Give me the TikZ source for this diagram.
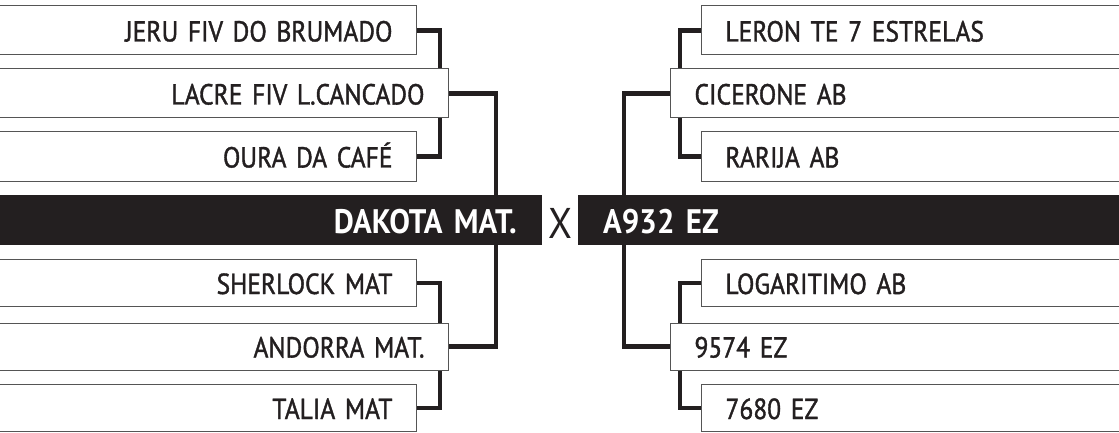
\documentclass[tikz,border=0pt]{standalone}
\usepackage{fontspec}
\newfontfamily\namefont[FakeBold=1.3,FakeStretch=0.88,WordSpace=0.6]{PT Sans}
\newfontfamily\barfont[FakeStretch=0.91,WordSpace=0.6]{PT Sans}
\newfontfamily\vsfont[FakeStretch=0.9]{PT Sans}
\definecolor{ink}{HTML}{231F20}
\definecolor{boxgray}{HTML}{555555}
\tikzset{
  namebox/.style={draw=boxgray, line width=1pt, fill=white, inner xsep=24pt, inner ysep=0pt,
    text height=22pt, text depth=0pt, text=ink,
    font=\namefont\fontsize{29}{32}\selectfont},
  lbox/.style={namebox, anchor=east, align=right, text width=#1},
  rbox/.style={namebox, anchor=west, align=left, text width=#1},
  barbox/.style={fill=ink, inner xsep=25pt, inner ysep=0pt, minimum height=50pt,
    text height=26pt, text depth=0pt, text=white,
    font=\barfont\bfseries\fontsize{34}{37}\selectfont},
  conn/.style={draw=ink, line width=4.3pt}
}
\begin{document}
\begin{tikzpicture}[x=1pt,y=-1pt]
\useasboundingbox (0,0) rectangle (1119,433);
\clip (0,0) rectangle (1119,433);
% left side
\node[lbox=379pt, minimum height=49pt] (jeru) at (417,30.5) {JERU FIV DO BRUMADO};
\node[lbox=411pt, minimum height=49pt] (lacre) at (449,93.5) {LACRE FIV L.CANCADO};
\node[lbox=379pt, minimum height=49pt] (oura) at (417,156.5) {OURA DA CAFÉ};
\node[lbox=379pt, minimum height=47pt] (sherlock) at (417,283) {SHERLOCK MAT};
\node[lbox=411pt, minimum height=47pt] (andorra) at (449,346.5) {ANDORRA MAT.};
\node[lbox=379pt, minimum height=47pt] (talia) at (417,408) {TALIA MAT};
% right side
\node[rbox=381pt, minimum height=49pt] (leron) at (701,30.5) {LERON TE 7 ESTRELAS};
\node[rbox=412pt, minimum height=49pt] (cicerone) at (670,93.5) {CICERONE AB};
\node[rbox=381pt, minimum height=49pt] (rarija) at (701,156.5) {RARIJA AB};
\node[rbox=381pt, minimum height=47pt] (logaritimo) at (701,283) {LOGARITIMO AB};
\node[rbox=412pt, minimum height=47pt] (n9574) at (670,346.5) {9574 EZ};
\node[rbox=381pt, minimum height=47pt] (n7680) at (701,408) {7680 EZ};
% connectors
\draw[conn] (jeru.east) -| ([xshift=-9pt]lacre.north east);
\draw[conn] (oura.east) -| ([xshift=-9pt]lacre.south east);
\draw[conn] (sherlock.east) -| ([xshift=-9pt]andorra.north east);
\draw[conn] (talia.east) -| ([xshift=-9pt]andorra.south east);
\draw[conn] (lacre.east) -- ++(47,0) |- (andorra.east);
\draw[conn] (leron.west) -| ([xshift=10pt]cicerone.north west);
\draw[conn] (rarija.west) -| ([xshift=10pt]cicerone.south west);
\draw[conn] (logaritimo.west) -| ([xshift=10pt]n9574.north west);
\draw[conn] (n7680.west) -| ([xshift=10pt]n9574.south west);
\draw[conn] (cicerone.west) -- ++(-46,0) |- (n9574.west);
% central bar
\node[barbox, anchor=east, minimum width=560pt, align=right, text width=510pt] (dakota) at (542,220) {DAKOTA MAT.};
\node[barbox, anchor=west, minimum width=560pt, align=left, text width=510pt] (a932) at (578,220) {A932 EZ};
\node[text=ink, inner sep=0pt, text height=30pt, text depth=0pt, font=\vsfont\fontsize{43}{46}\selectfont] (vs) at (560,223) {X};
\end{tikzpicture}
\end{document}
